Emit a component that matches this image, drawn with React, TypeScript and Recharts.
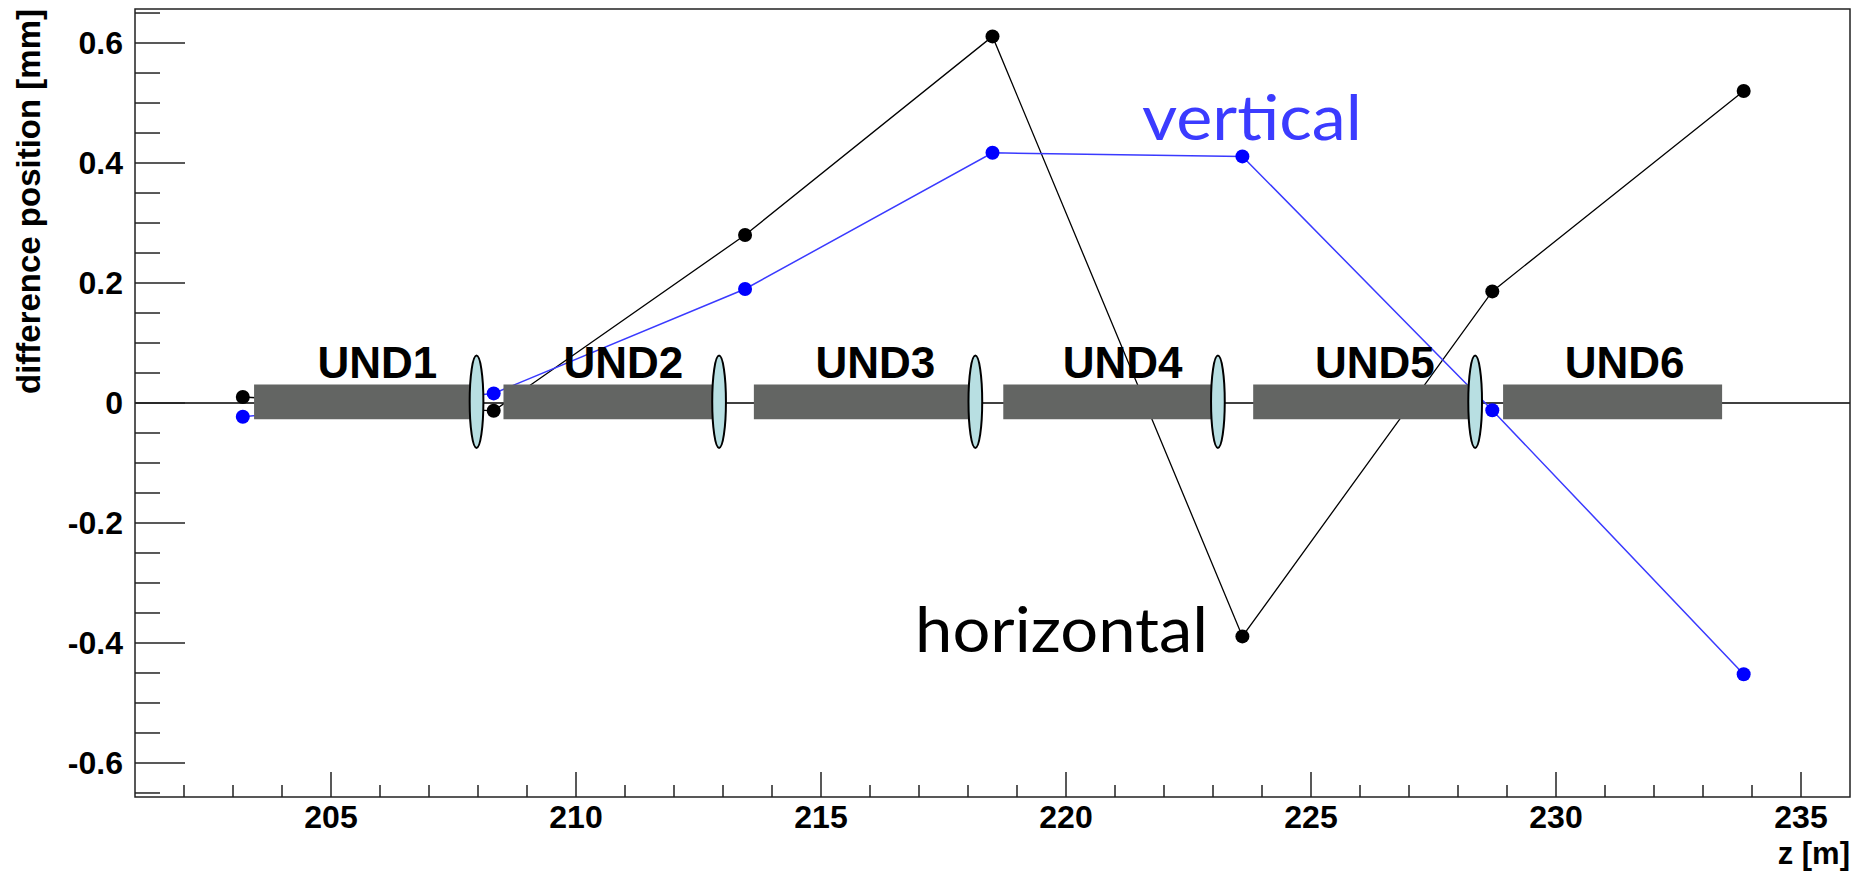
import { ScatterChart, Scatter, XAxis, YAxis, ReferenceArea, ReferenceLine, ReferenceDot, Label } from 'recharts'

// beam position z [m] of the BPMs
const zPositions = [203.2, 208.32, 213.45, 218.5, 223.6, 228.7, 233.83]
// difference position [mm]
const horizontalDiff = [0.01, -0.013, 0.28, 0.611, -0.389, 0.186, 0.52]
const verticalDiff = [-0.023, 0.016, 0.19, 0.417, 0.411, -0.012, -0.452]

// undulator segments and quadrupoles along z
const undNames = ['UND1', 'UND2', 'UND3', 'UND4', 'UND5', 'UND6']
const undStart = [203.43, 208.52, 213.63, 218.72, 223.82, 228.92]
const undEnd = [207.97, 212.92, 218.1, 223.1, 228.3, 233.39]
const lensZ = [207.97, 212.92, 218.15, 223.1, 228.35]

const xMajorTicks = [205, 210, 215, 220, 225, 230, 235]
const yMajorTicks = [-0.6, -0.4, -0.2, 0, 0.2, 0.4, 0.6]

const X_DOMAIN: [number, number] = [201, 236]
const Y_DOMAIN: [number, number] = [-0.6567, 0.6567]

const xTicks = Array.from({ length: 34 }, (_, i) => 202 + i)
const yTicks = Array.from({ length: 27 }, (_, i) => Math.round((-0.65 + i * 0.05) * 100) / 100)

const hData = zPositions.map((z, i) => ({ x: z, y: horizontalDiff[i] }))
const vData = zPositions.map((z, i) => ({ x: z, y: verticalDiff[i] }))

const FONT = '"Liberation Sans", Arial, Helvetica, sans-serif'
const HAND = '"Comic Sans MS", Lato, "Noto Sans", sans-serif'
const AXIS_COLOR = '#222'
const BOX_COLOR = '#636563'
const LENS_FILL = '#b8dfe2'
const Y_TICK_MARGIN = 12
const X_TICK_MARGIN = 10

function YTick(props: any) {
  const { x, y, payload } = props
  const v = payload.value
  const major = yMajorTicks.some((m) => Math.abs(m - v) < 1e-6)
  const axisX = x + Y_TICK_MARGIN
  return (
    <g>
      <line x1={axisX} x2={axisX + (major ? 50 : 25)} y1={y} y2={y} stroke={AXIS_COLOR} strokeWidth={1.5} />
      {major && (
        <text x={x} y={y} dy={11} textAnchor="end" fontFamily={FONT} fontWeight="bold" fontSize={32} fill="#000">
          {v === 0 ? '0' : String(v)}
        </text>
      )}
    </g>
  )
}

function XTick(props: any) {
  const { x, y, payload } = props
  const v = payload.value
  const major = xMajorTicks.includes(v)
  const axisY = y - X_TICK_MARGIN
  return (
    <g>
      <line x1={x} x2={x} y1={axisY} y2={axisY - (major ? 25 : 12)} stroke={AXIS_COLOR} strokeWidth={1.5} />
      {major && (
        <text x={x} y={y} dy={21} textAnchor="middle" fontFamily={FONT} fontWeight="bold" fontSize={32} fill="#000">
          {v}
        </text>
      )}
    </g>
  )
}

const dot = (color: string) => (p: any) => <circle cx={p.cx} cy={p.cy} r={7} fill={color} />

const lensShape = (p: any) => (
  <ellipse
    cx={p.x + p.width / 2}
    cy={p.y + p.height / 2}
    rx={Math.abs(p.width) / 2}
    ry={Math.abs(p.height) / 2}
    fill={LENS_FILL}
    stroke="#000"
    strokeWidth={2}
  />
)

const undLabel = (name: string) => (p: any) => {
  const vb = p.viewBox
  return (
    <text
      x={vb.x + vb.width / 2 + 12}
      y={vb.y - 6}
      textAnchor="middle"
      fontFamily={FONT}
      fontWeight="bold"
      fontSize={44}
      fill="#000"
    >
      {name}
    </text>
  )
}

const annotation = (text: string, color: string, width: number) => (p: any) => (
  <text
    x={p.cx}
    y={p.cy}
    fontFamily={HAND}
    fontSize={62}
    fill={color}
    textLength={width}
    lengthAdjust="spacingAndGlyphs"
  >
    {text}
  </text>
)

export default function App() {
  return (
    <div style={{ position: 'absolute', left: 0, top: 0, width: 1869, height: 873, background: '#fff' }}>
      <ScatterChart width={1869} height={873} margin={{ top: 9, right: 19, bottom: 0, left: 0 }}>
        <XAxis
          type="number"
          dataKey="x"
          domain={X_DOMAIN}
          ticks={xTicks}
          interval={0}
          allowDataOverflow
          height={76}
          axisLine={false}
          tickLine={false}
          tickSize={0}
          tickMargin={X_TICK_MARGIN}
          tick={<XTick />}
        >
          <Label
            content={(p: any) => {
              const vb = p.viewBox
              return (
                <text x={vb.x + vb.width} y={vb.y + 67} textAnchor="end" fontFamily={FONT} fontWeight="bold" fontSize={31} fill="#000">
                  z [m]
                </text>
              )
            }}
          />
        </XAxis>
        <YAxis
          type="number"
          dataKey="y"
          domain={Y_DOMAIN}
          ticks={yTicks}
          interval={0}
          allowDataOverflow
          width={135}
          axisLine={false}
          tickLine={false}
          tickSize={0}
          tickMargin={Y_TICK_MARGIN}
          tick={<YTick />}
        >
          <Label
            content={(p: any) => {
              const vb = p.viewBox
              const lx = 40
              const ly = vb.y
              return (
                <text
                  x={lx}
                  y={ly}
                  transform={`rotate(-90 ${lx} ${ly})`}
                  textAnchor="end"
                  fontFamily={FONT}
                  fontWeight="bold"
                  fontSize={33}
                  fill="#000"
                >
                  difference position [mm]
                </text>
              )
            }}
          />
        </YAxis>

        <ReferenceLine y={0} stroke="#000" strokeWidth={1.4} />

        <Scatter
          data={hData}
          fill="#000"
          line={{ stroke: '#000', strokeWidth: 1.3 }}
          shape={dot('#000')}
          isAnimationActive={false}
        />
        <Scatter
          data={vData}
          fill="#0000ff"
          line={{ stroke: '#3a3aff', strokeWidth: 1.5 }}
          shape={dot('#0000ff')}
          isAnimationActive={false}
        />

        {undNames.map((name, i) => (
          <ReferenceArea
            key={name}
            x1={undStart[i]}
            x2={undEnd[i]}
            y1={-0.027}
            y2={0.031}
            fill={BOX_COLOR}
            fillOpacity={1}
            stroke="none"
            zIndex={650}
            label={undLabel(name)}
          />
        ))}
        {lensZ.map((z) => (
          <ReferenceArea
            key={z}
            x1={z - 0.14}
            x2={z + 0.14}
            y1={-0.075}
            y2={0.079}
            zIndex={660}
            shape={lensShape}
          />
        ))}

        <ReferenceDot x={221.55} y={0.438} r={0} zIndex={700} shape={annotation('vertical', '#3b3bff', 220)} />
        <ReferenceDot x={216.92} y={-0.4155} r={0} zIndex={700} shape={annotation('horizontal', '#000', 293)} />

        <ReferenceArea
          x1={X_DOMAIN[0]}
          x2={X_DOMAIN[1]}
          y1={Y_DOMAIN[0]}
          y2={Y_DOMAIN[1]}
          fill="none"
          stroke={AXIS_COLOR}
          strokeWidth={1.5}
          zIndex={800}
        />
      </ScatterChart>
    </div>
  )
}
